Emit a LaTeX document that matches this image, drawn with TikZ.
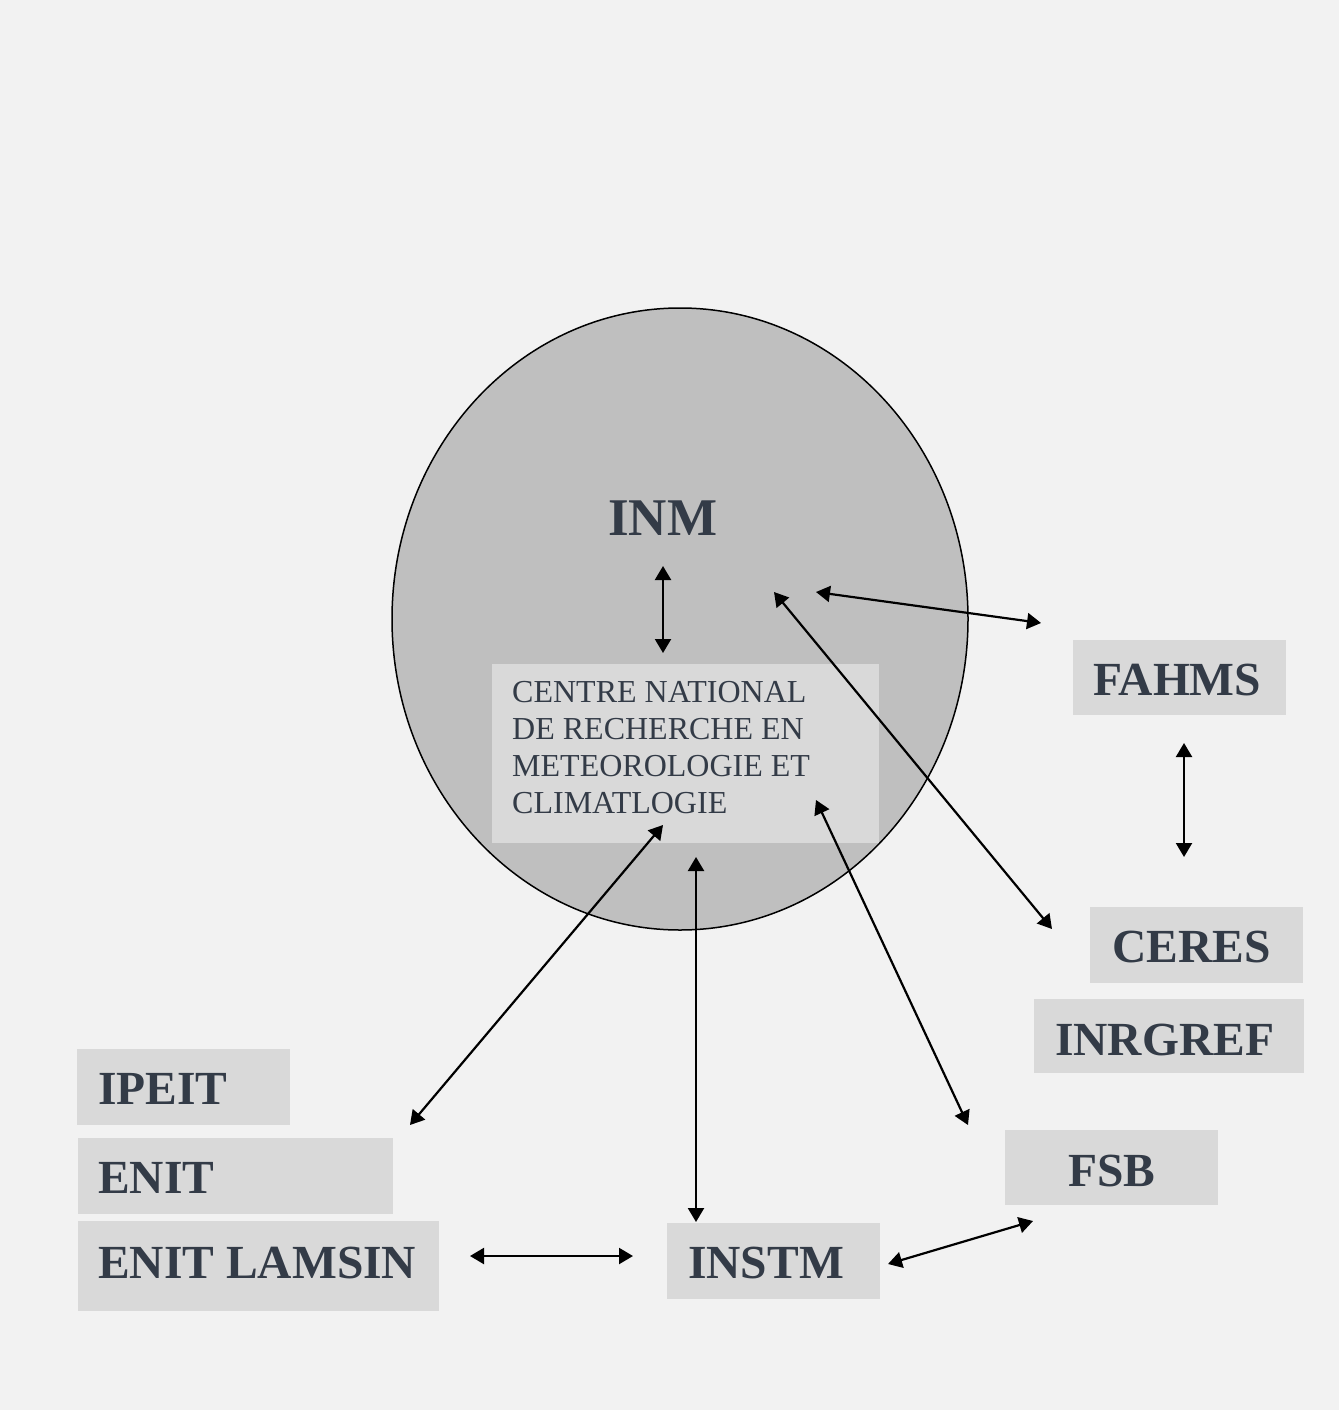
\documentclass[tikz,border=0pt]{standalone}
\usepackage{fontspec}
\setmainfont{Liberation Serif}
\usetikzlibrary{arrows.meta,shapes.geometric}
\definecolor{bg}{HTML}{F2F2F2}
\definecolor{disk}{HTML}{BFBFBF}
\definecolor{boxc}{HTML}{D9D9D9}
\definecolor{txt}{HTML}{333B47}
\tikzset{
  boxn/.style={fill=boxc, draw=none, anchor=north west, inner sep=0pt, outer sep=0pt},
  lbl/.style={anchor=base west, inner sep=0pt, text=txt, font=\fontsize{47.5}{57}\selectfont\bfseries},
  link/.style={line width=2.2pt, {Triangle[length=14pt,width=16pt]}-{Triangle[length=14pt,width=16pt]}}
}
\begin{document}
\begin{tikzpicture}[x=1pt,y=-1pt]
\fill[bg] (0,0) rectangle (1339,1410);
\useasboundingbox (0,0) rectangle (1339,1410);
% disk
\node[ellipse, draw=black, line width=1.5pt, fill=disk, minimum width=576, minimum height=622, inner sep=0pt] (disk) at (680,619) {};
\node[anchor=base west, inner sep=0pt, text=txt, font=\fontsize{53}{60}\selectfont\bfseries] (inm) at (608,535) {INM};
% centre box
\node[boxn, minimum width=387, minimum height=179] (cnrm) at (492,664) {};
\node[anchor=base west, inner sep=0pt, text=txt, align=left, font=\fontsize{32}{36.7}\selectfont] (cnrmt) at (512,813) {CENTRE NATIONAL\\DE RECHERCHE EN\\METEOROLOGIE ET\\CLIMATLOGIE};
% boxes
\node[boxn, minimum width=213, minimum height=75] (fahmsb) at (1073,640) {};
\node[lbl] (fahms) at (1093,695) {FAHMS};
\node[boxn, minimum width=213, minimum height=76] (ceresb) at (1090,907) {};
\node[lbl] (ceres) at (1112,962) {CERES};
\node[boxn, minimum width=270, minimum height=74] (inrgrefb) at (1034,999) {};
\node[lbl] (inrgref) at (1055,1055) {INRGREF};
\node[boxn, minimum width=213, minimum height=75] (fsbb) at (1005,1130) {};
\node[lbl] (fsb) at (1068,1186) {FSB};
\node[boxn, minimum width=213, minimum height=76] (ipeitb) at (77,1049) {};
\node[lbl] (ipeit) at (98,1104) {IPEIT};
\node[boxn, minimum width=315, minimum height=76] (enitb) at (78,1138) {};
\node[lbl] (enit) at (98,1193) {ENIT};
\node[boxn, minimum width=361, minimum height=90] (lamsinb) at (78,1221) {};
\node[lbl] (lamsin) at (98,1278) {ENIT LAMSIN};
\node[boxn, minimum width=213, minimum height=76] (instmb) at (667,1223) {};
\node[lbl] (instm) at (688,1278) {INSTM};
% connector ends
\coordinate (a1) at (663,566); \coordinate (a2) at (663,653);
\coordinate (b1) at (816,592); \coordinate (b2) at (1041,623);
\coordinate (c1) at (774,592); \coordinate (c2) at (1052,929);
\coordinate (d1) at (1184,743); \coordinate (d2) at (1184,857);
\coordinate (e1) at (663,825); \coordinate (e2) at (410,1125);
\coordinate (f1) at (696,857); \coordinate (f2) at (696,1222);
\coordinate (g1) at (816,800); \coordinate (g2) at (968,1125);
\coordinate (h1) at (470,1256); \coordinate (h2) at (633,1256);
\coordinate (i1) at (888,1264); \coordinate (i2) at (1033,1221);
\foreach \p in {a,b,c,d,e,f,g,h,i} \draw[link] (\p1) -- (\p2);
\end{tikzpicture}
\end{document}
